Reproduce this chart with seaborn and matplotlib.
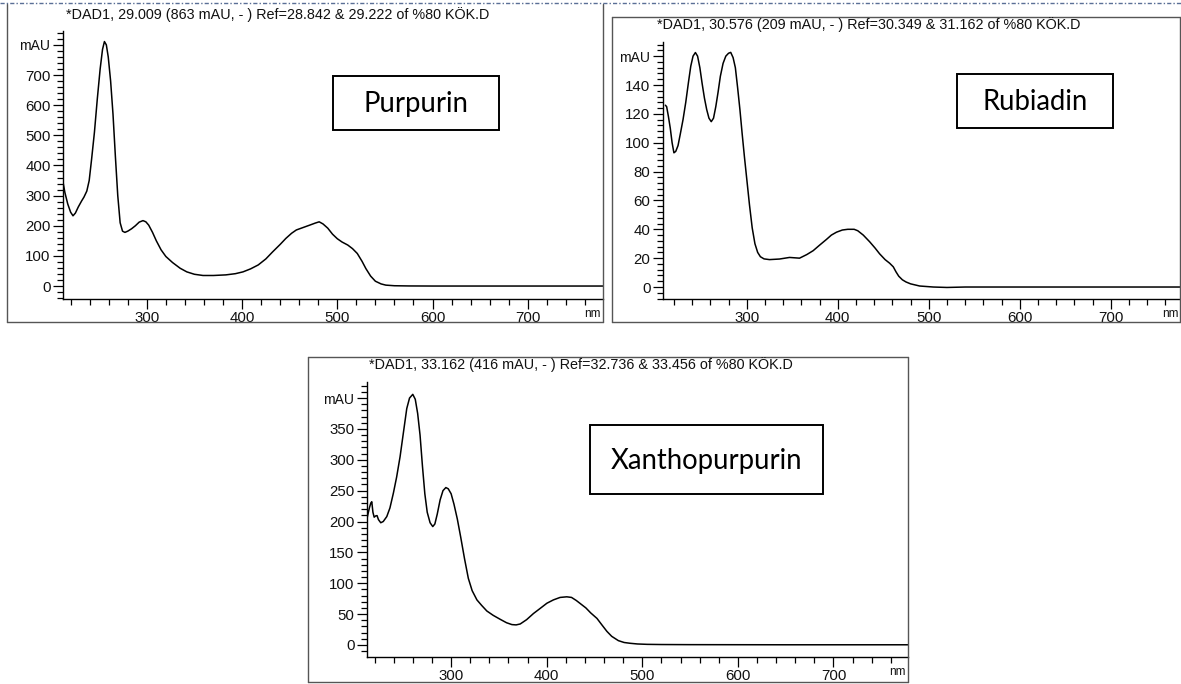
import matplotlib
matplotlib.use("Agg")
import matplotlib.pyplot as plt
from matplotlib.ticker import MultipleLocator, FixedLocator, FixedFormatter
from matplotlib.patches import Rectangle
from matplotlib.lines import Line2D
import seaborn as sns
import pandas as pd

# ---------------- data ----------------
wl_purpurin = [212, 214, 217, 220, 222.5, 225, 228, 231.5, 234, 237, 239.5, 242, 245, 248,
               251, 253.5, 255.5, 257.5, 259.5, 262, 264.5, 267, 269.5, 272, 274.5, 277,
               280, 284, 288, 292, 296, 299, 302, 306, 310, 315, 320, 327, 335, 342, 350,
               359, 370, 383, 393, 401, 409, 417, 425, 432, 440, 446, 452, 457, 464, 471,
               477, 481, 485, 490, 495, 500, 505, 511, 516, 521, 526, 530, 535, 540, 546,
               551, 560, 575, 600, 700, 779]
abs_purpurin = [345, 310, 272, 245, 233, 242, 262, 282, 295, 315, 350, 420, 510, 620,
                720, 785, 811, 800, 760, 680, 570, 430, 300, 210, 182, 178,
                182, 190, 200, 212, 217, 213, 202, 178, 150, 120, 98, 78, 59, 47, 39,
                35, 35, 37, 41, 47, 57, 70, 90, 113, 138, 158, 175, 186, 194, 202,
                209, 213, 206, 192, 172, 157, 146, 136, 124, 108, 82, 58, 33, 16, 7,
                3, 1, 0.3, 0, 0, 0]

wl_rubiadin = [210.6, 212, 214, 216, 218, 220, 222, 224.5, 227, 230, 233, 236, 238.5, 241,
               243.6, 246, 248.5, 251, 253.5, 256, 258.5, 261, 263.5, 266, 268.5, 271, 274,
               277, 280, 282.4, 285, 287.5, 290, 292.5, 295, 297.5, 300, 303, 306, 309, 312,
               315, 319, 325, 336, 347, 358, 366, 373, 380, 387.6, 393, 398.6, 405, 411,
               418, 422, 428, 435, 441, 446, 452, 457, 461, 464, 467, 471, 475, 480, 490,
               505, 520, 540, 600, 700, 776]
abs_rubiadin = [126, 125, 118, 110, 100, 93, 94, 98, 106, 116, 128, 142, 153, 160,
                162.5, 160, 152, 141, 131, 123, 117, 114.6, 117, 125, 135, 146, 155,
                160, 162, 162.6, 159, 152, 138, 123, 106, 90, 75, 57, 41, 30, 24,
                21, 19.5, 19, 19.4, 20.5, 20, 22.5, 25.2, 29, 33, 36, 38, 39.5, 40,
                40, 39, 36, 31.4, 27, 23, 19, 16.5, 14, 10.5, 7.5, 5, 3.5, 2.2, 0.7,
                0, -0.3, 0, 0, 0, 0]

wl_xantho = [211.7, 213, 214.5, 216, 217, 218.2, 219.5, 221, 222.5, 224, 226.4, 229, 232.7,
             236, 239.6, 243, 246.6, 250, 253.6, 256.5, 259.9, 262.5, 265, 267.5, 270,
             272.5, 275, 278, 280.8, 283, 285.5, 288.5, 291.5, 294.5, 297, 300, 303,
             306.5, 310, 314, 318, 322, 327, 332, 337.4, 344, 351.3, 358, 363.6, 368,
             372.3, 379, 386.2, 393, 400.2, 407, 414, 421, 426, 431, 436, 441, 446,
             452.6, 458, 463, 468, 475, 481, 487.4, 495, 505, 520, 550, 650, 778]
abs_xantho = [202.6, 212, 222, 230, 232, 215, 207, 209, 209.6, 203, 198, 200, 208,
              222, 246, 272, 305, 343, 383, 400, 406, 398, 375, 340, 290,
              245, 215, 198, 191.8, 196, 212, 235, 250, 255, 253, 245, 228,
              204, 175, 140, 108, 88, 73, 64, 55, 48, 41.6, 36, 33, 32.5,
              34, 41, 51, 59, 67.6, 73, 77, 78, 77, 72, 66, 60, 52,
              43, 32, 22, 14, 7, 4, 2.7, 1.6, 1, 0.7, 0.5, 0.3, 0.3]

titles = ["*DAD1, 29.009 (863 mAU, - ) Ref=28.842 & 29.222 of %80 KÖK.D",
          "*DAD1, 30.576 (209 mAU, - ) Ref=30.349 & 31.162 of %80 KÖK.D",
          "*DAD1, 33.162 (416 mAU, - ) Ref=32.736 & 33.456 of %80 KÖK.D"]
names = ["Purpurin", "Rubiadin", "Xanthopurpurin"]
xticks = [300, 400, 500, 600, 700]
xticklabels = ["300", "400", "500", "600", "700"]
yticks_purpurin = [0, 100, 200, 300, 400, 500, 600, 700, 800]
ylabels_purpurin = ["0", "100", "200", "300", "400", "500", "600", "700", "mAU"]
yticks_rubiadin = [0, 20, 40, 60, 80, 100, 120, 140, 160]
ylabels_rubiadin = ["0", "20", "40", "60", "80", "100", "120", "140", "mAU"]
yticks_xantho = [0, 50, 100, 150, 200, 250, 300, 350, 400]
ylabels_xantho = ["0", "50", "100", "150", "200", "250", "300", "350", "mAU"]

# ---------------- style ----------------
sns.set_theme(style="ticks")
plt.rcParams["font.family"] = ["Liberation Sans", "DejaVu Sans"]

W, H = 1181, 684
fig = plt.figure(figsize=(W / 100, H / 100), dpi=100)
fig.patch.set_facecolor("white")


def fx(px):
    return px / W


def fy(py):
    return 1 - py / H


def make_axes(x0, x1, ytop, ybot):
    return fig.add_axes([fx(x0), fy(ybot), fx(x1 - x0), (ybot - ytop) / H])


panels = [
    dict(wl=wl_purpurin, ab=abs_purpurin, rect=(63, 603, 31, 299), xlim=(212, 779),
         ylim=(-43, 846), yt=yticks_purpurin, yl=ylabels_purpurin, minor=20,
         title=titles[0], tpos=(278, 15), name=names[0], box=(333, 499, 76, 130),
         frame=(7, 603, 4, 322), nm=(592, 314)),
    dict(wl=wl_rubiadin, ab=abs_rubiadin, rect=(663, 1180, 42, 299), xlim=(208, 776),
         ylim=(-8.3, 169.8), yt=yticks_rubiadin, yl=ylabels_rubiadin, minor=4,
         title=titles[1], tpos=(869, 25), name=names[1], box=(957, 1113, 74, 128),
         frame=(612, 1180, 17, 322), nm=(1170, 314)),
    dict(wl=wl_xantho, ab=abs_xantho, rect=(367, 908, 382, 657), xlim=(212, 778),
         ylim=(-19.5, 426), yt=yticks_xantho, yl=ylabels_xantho, minor=10,
         title=titles[2], tpos=(581, 365), name=names[2], box=(590, 823, 425, 494),
         frame=(308, 908, 357, 682), nm=(897, 672)),
]

for i, p in enumerate(panels):
    x0, x1, yt_, yb_ = p["rect"]
    ax = make_axes(x0, x1, yt_, yb_)
    ax.set_facecolor("none")
    df = pd.DataFrame({"nm": p["wl"], "mAU": p["ab"]})
    sns.lineplot(data=df, x="nm", y="mAU", ax=ax, color="black", lw=1.1,
                 estimator=None, sort=False)
    ax.set_xlim(*p["xlim"])
    ax.set_ylim(*p["ylim"])
    ax.set_xlabel("")
    ax.set_ylabel("")
    for s in ["top", "right"]:
        ax.spines[s].set_visible(False)
    for s in ["left", "bottom"]:
        ax.spines[s].set_color("black")
        ax.spines[s].set_linewidth(1.0)
    ax.xaxis.set_major_locator(FixedLocator(xticks))
    ax.xaxis.set_major_formatter(FixedFormatter(xticklabels))
    ax.xaxis.set_minor_locator(MultipleLocator(20))
    ax.yaxis.set_major_locator(FixedLocator(p["yt"]))
    ax.yaxis.set_major_formatter(FixedFormatter(p["yl"]))
    ax.yaxis.set_minor_locator(MultipleLocator(p["minor"]))
    ax.tick_params(which="major", direction="out", length=7, width=0.9, color="black",
                   labelsize=10.8, pad=2, labelcolor="#111111")
    ax.tick_params(which="minor", direction="out", length=4, width=0.9, color="black")
    for lab in ax.get_yticklabels():
        if lab.get_text() == "mAU":
            lab.set_fontsize(10)

    # frame around panel
    fx0, fx1, fy0, fy1 = p["frame"]
    col = "#555555"
    if i == 0:
        segs = [((fx0, fy0), (fx0, fy1)), ((fx0, fy1), (fx1, fy1)), ((fx1, fy1), (fx1, fy0))]
    else:
        segs = [((fx0, fy0), (fx0, fy1)), ((fx0, fy1), (fx1, fy1)), ((fx1, fy1), (fx1, fy0)),
                ((fx0, fy0), (fx1, fy0))]
    for (a, b) in segs:
        fig.add_artist(Line2D([fx(a[0]), fx(b[0])], [fy(a[1]), fy(b[1])],
                              color=col, lw=1.0, transform=fig.transFigure))

    # title
    fig.text(fx(p["tpos"][0]), fy(p["tpos"][1]), p["title"], ha="center", va="center",
             fontsize=10.4, color="#111111")
    # nm label
    fig.text(fx(p["nm"][0]), fy(p["nm"][1]), "nm", ha="center", va="center",
             fontsize=8.5, color="#111111")
    # compound name box
    bx0, bx1, by0, by1 = p["box"]
    fig.add_artist(Rectangle((fx(bx0), fy(by1)), fx(bx1 - bx0), (by1 - by0) / H,
                             transform=fig.transFigure, fill=False, ec="black", lw=1.4))
    fig.text(fx((bx0 + bx1) / 2), fy((by0 + by1) / 2 + 1), p["name"], ha="center",
             va="center", fontsize=19.8, family=["Lato", "DejaVu Sans"], color="black")

# dashed line across the top
fig.add_artist(Line2D([0, 1], [fy(2.5), fy(2.5)], color="#5a6f96", lw=1.0,
                      linestyle=(0, (3, 1.5, 1, 1.5)), transform=fig.transFigure))

fig.savefig("out.png", dpi=100)
